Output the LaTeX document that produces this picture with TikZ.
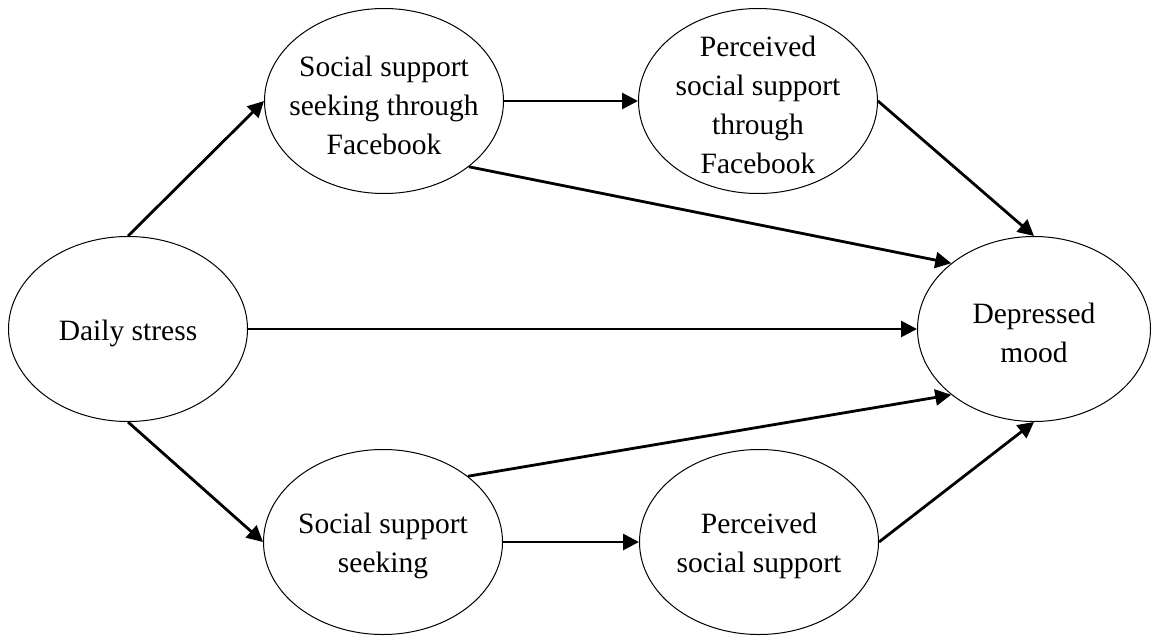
\documentclass[tikz,border=0pt]{standalone}
\usepackage{fontspec}
\setmainfont{Liberation Serif}
\usetikzlibrary{shapes.geometric,arrows.meta}
\begin{document}
\begin{tikzpicture}[x=1pt,y=-1pt,
  ell/.style={draw=black,line width=1pt,ellipse,minimum width=239pt,minimum height=185pt,inner sep=0pt},
  lbl/.style={align=center,inner sep=0pt,font=\fontsize{29.5}{39}\selectfont},
  arr/.style={line width=2.8pt,-{Triangle[length=16pt,width=16pt]}}]
\useasboundingbox (0,0) rectangle (1152,635);
\node[ell] (ds) at (128,329) {};
\node[lbl] (dst) at ([yshift=-4pt]ds.center) {Daily stress};
\node[ell] (sssf) at (384,101) {};
\node[lbl] (sssft) at ([yshift=-4pt]sssf.center) {Social support\\seeking through\\Facebook};
\node[ell] (pssf) at (758,101) {};
\node[lbl] (pssft) at ([yshift=-4pt]pssf.center) {Perceived\\social support\\through\\Facebook};
\node[ell, minimum width=233pt] (dm) at (1034,329) {};
\node[lbl] (dmt) at ([yshift=-4pt]dm.center) {Depressed\\mood};
\node[ell] (sss) at (383,542) {};
\node[lbl] (ssst) at ([yshift=-4pt]sss.center) {Social support\\seeking};
\node[ell] (pss) at (759,542) {};
\node[lbl] (psst) at ([yshift=-4pt]pss.center) {Perceived\\social support};
\draw[arr] (ds.north) -- (sssf.west);
\draw[arr] (ds.south) -- (sss.west);
\draw[arr] (ds.east) -- (dm.west);
\draw[arr] (sssf.east) -- (pssf.west);
\draw[arr] (sss.east) -- (pss.west);
\draw[arr] (pssf.east) -- (dm.north);
\draw[arr] (pss.east) -- (dm.south);
\draw[arr] (sssf.south east) -- (dm.north west);
\draw[arr] (sss.north east) -- (dm.south west);
\end{tikzpicture}
\end{document}
